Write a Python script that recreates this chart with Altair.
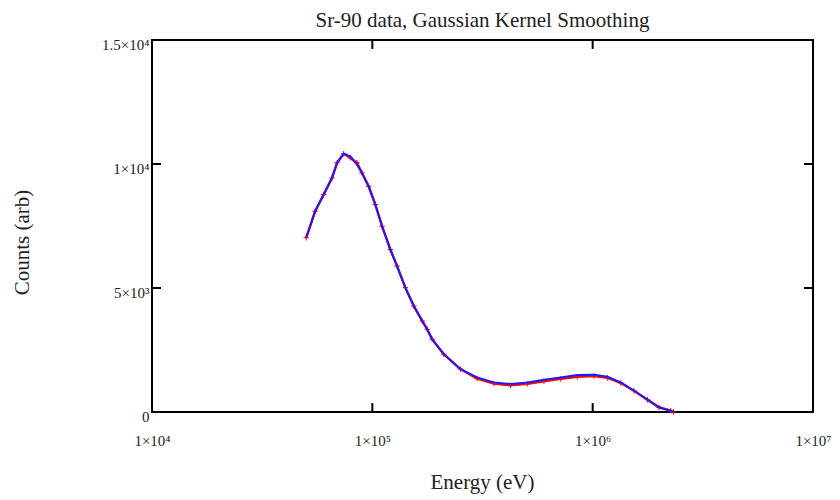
import altair as alt
import pandas as pd

# Energy (eV) sample points
energy = [50100, 55000, 60100, 65600, 69200, 74100, 79400, 85200, 89800, 96200,
          103200, 110700, 120700, 129500, 141200, 154200, 168400, 177400, 186800,
          210900, 251000, 299000, 356000, 424000, 505000, 601000, 716000, 852000,
          1015000, 1167000, 1341000, 1541000, 1774000, 2000000, 2260000, 2330000]
# Gaussian-kernel smoothed counts (blue)
smoothed = [7025, 8094, 8766, 9437, 10050, 10414, 10306, 9972, 9638, 9100,
            8364, 7491, 6554, 5883, 5014, 4274, 3671, 3337, 2935,
            2332, 1729, 1395, 1194, 1126, 1194, 1299, 1395, 1488,
            1500, 1419, 1194, 856, 495, 189, 52, 0]
# raw data counts (red)
raw = [7025, 8094, 8766, 9437, 10050, 10414, 10250, 10050, 9638, 9100,
       8364, 7491, 6554, 5883, 5014, 4274, 3671, 3337, 2935,
       2332, 1729, 1350, 1150, 1075, 1135, 1240, 1335, 1420,
       1450, 1380, 1170, 856, 495, 189, 52, 0]

x_tick_values = [1e4, 1e5, 1e6, 1e7]
x_tick_labels = ["1×10⁴", "1×10⁵", "1×10⁶", "1×10⁷"]
y_tick_values = [0, 5000, 10000, 15000]
y_tick_labels = ["0", "5×10³", "1×10⁴", "1.5×10⁴"]

# inner tick marks (mirrored on all sides)
inner_x_ticks = [1e5, 1e6]
inner_y_ticks = [5000, 10000]

FONT = "Liberation Serif"

df = pd.DataFrame({"E": energy, "smooth": smoothed, "raw": raw})


def label_expr(values, labels):
    parts = []
    for v, l in zip(values, labels):
        parts.append(f"datum.value == {v} ? '{l}'")
    return " : ".join(parts) + " : ''"


xscale = alt.Scale(type="log", domain=[1e4, 1e7], nice=False)
yscale = alt.Scale(domain=[0, 15000], nice=False, zero=False)

xaxis = alt.Axis(values=x_tick_values, labelExpr=label_expr(x_tick_values, x_tick_labels),
                 title="Energy (eV)", ticks=False, domain=False, grid=False,
                 labelFont=FONT, labelFontSize=15, labelColor="#222", labelPadding=21,
                 titleFont=FONT, titleFontSize=21, titleFontWeight="normal", titleColor="#222",
                 titleX=330, titleY=70, titleBaseline="middle", labelFlush=False)
yaxis = alt.Axis(values=y_tick_values, labelExpr=label_expr(y_tick_values, y_tick_labels),
                 title="Counts (arb)", ticks=False, domain=False, grid=False,
                 labelFont=FONT, labelFontSize=15, labelColor="#222", labelPadding=3,
                 labelOffset=4, labelFlush=False,
                 titleFont=FONT, titleFontSize=21, titleFontWeight="normal", titleColor="#222",
                 titleX=-130, titleY=202, titleBaseline="middle", titleAlign="center",
                 titleAngle=270)

base = alt.Chart(df)

red_line = base.mark_line(color="#ff0000", strokeWidth=2.4).encode(
    x=alt.X("E:Q", scale=xscale, axis=xaxis),
    y=alt.Y("raw:Q", scale=yscale, axis=yaxis),
)
red_pts = base.mark_point(shape="M-1,0L1,0M0,-1L0,1", size=30, color="#ff0000",
                          strokeWidth=1, filled=False, opacity=1).encode(
    x=alt.X("E:Q", scale=xscale), y=alt.Y("raw:Q", scale=yscale))
blue_line = base.mark_line(color="#1a1aff", strokeWidth=2).encode(
    x=alt.X("E:Q", scale=xscale), y=alt.Y("smooth:Q", scale=yscale))

xt = pd.DataFrame({"E": inner_x_ticks})
yt = pd.DataFrame({"C": inner_y_ticks})
TICK_C = 360        # ~9 px in counts
TICK_E = 1.099      # ~9 px in log-energy factor

bottom_ticks = alt.Chart(xt).mark_rule(color="black", strokeWidth=2).encode(
    x=alt.X("E:Q", scale=xscale), y=alt.datum(0, scale=yscale), y2=alt.datum(TICK_C))
top_ticks = alt.Chart(xt).mark_rule(color="black", strokeWidth=2).encode(
    x=alt.X("E:Q", scale=xscale), y=alt.datum(15000, scale=yscale), y2=alt.datum(15000 - TICK_C))
left_ticks = alt.Chart(yt).mark_rule(color="black", strokeWidth=2).encode(
    y=alt.Y("C:Q", scale=yscale), x=alt.datum(1e4, scale=xscale), x2=alt.datum(1e4 * TICK_E))
right_ticks = alt.Chart(yt).mark_rule(color="black", strokeWidth=2).encode(
    y=alt.Y("C:Q", scale=yscale), x=alt.datum(1e7, scale=xscale), x2=alt.datum(1e7 / TICK_E))

chart = alt.layer(red_line, red_pts, blue_line, bottom_ticks, top_ticks, left_ticks, right_ticks).properties(
    width=661, height=372,
    title=alt.TitleParams("Sr-90 data, Gaussian Kernel Smoothing", font=FONT, fontSize=21,
                          fontWeight="normal", color="#222", anchor="middle", offset=6),
    autosize="none",
    padding={"left": 144, "top": 32, "right": 19, "bottom": 88},
    background="white",
).configure_view(stroke="black", strokeWidth=2)

chart.save("out.html", embed_options={"renderer": "svg", "actions": False})
